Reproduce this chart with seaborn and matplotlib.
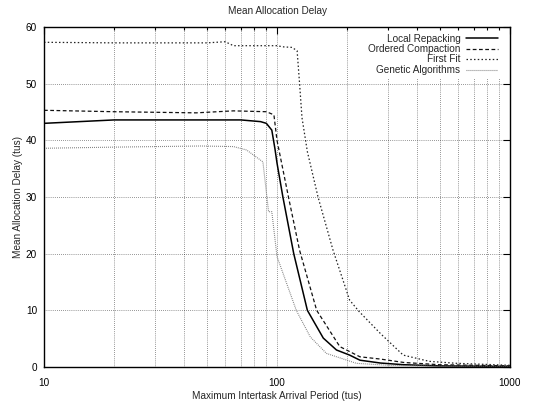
import numpy as np
import pandas as pd
import matplotlib
matplotlib.use('Agg')
import matplotlib.pyplot as plt
import seaborn as sns
from matplotlib.ticker import FixedLocator, NullFormatter, FixedFormatter

# ---- data ----
lr_x = [10, 20, 50, 70, 85, 90, 95, 98, 100, 106, 118, 135, 158, 180, 205, 227, 278, 350, 500, 1000]
lr_y = [43.0, 43.6, 43.6, 43.6, 43.3, 43.0, 41.8, 38.5, 36.0, 30.0, 20.0, 10.0, 5.1, 3.0, 2.1, 1.2, 0.7, 0.4, 0.2, 0.1]

oc_x = [10, 20, 45, 65, 90, 97, 100, 112, 125, 148, 186, 227, 278, 350, 500, 1000]
oc_y = [45.3, 45.05, 44.85, 45.2, 45.05, 44.5, 40.0, 30.0, 20.6, 10.0, 3.6, 1.8, 1.4, 0.8, 0.4, 0.2]

ff_x = [10, 20, 50, 60, 65, 100, 106, 116, 122, 125, 128, 135, 150, 174, 205, 225, 278, 348, 450, 590, 1000]
ff_y = [57.3, 57.2, 57.2, 57.4, 56.7, 56.7, 56.5, 56.4, 55.8, 50.0, 44.0, 38.0, 30.0, 20.6, 11.8, 9.8, 5.9, 2.1, 1.0, 0.65, 0.3]

ga_x = [10, 20, 47, 65, 74, 87, 92, 95, 100, 121, 139, 163, 219, 300, 500, 1000]
ga_y = [38.6, 38.8, 39.0, 38.9, 38.3, 36.2, 27.4, 27.4, 19.5, 10.0, 5.3, 2.4, 0.65, 0.3, 0.15, 0.1]

series_names = ["Local Repacking", "Ordered Compaction", "First Fit", "Genetic Algorithms"]
x_ticks = [10, 100, 1000]
x_tick_labels = ["10", "100", "1000"]
y_ticks = [0, 10, 20, 30, 40, 50, 60]

title = "Mean Allocation Delay"
xlabel = "Maximum Intertask Arrival Period (tus)"
ylabel = "Mean Allocation Delay (tus)"

# ---- style ----
FS = 7.2
sns.set_theme(style="white")
plt.rcParams['font.family'] = ['Liberation Sans', 'DejaVu Sans']
plt.rcParams['font.size'] = FS
plt.rcParams['axes.linewidth'] = 1.0

W, H = 543, 408
fig = plt.figure(figsize=(W / 100, H / 100), dpi=100)
L, R, T, B = 44, 510, 27, 367
ax = fig.add_axes([L / W, (H - B) / H, (R - L) / W, (B - T) / H])

styles = [
    dict(color="black", linestyle="-", linewidth=1.1),
    dict(color="#111111", linestyle=(0, (3, 2)), linewidth=0.9),
    dict(color="#222222", linestyle=(0, (1.2, 1.8)), linewidth=0.9),
    dict(color="#777777", linestyle=(0, (0.8, 1.0)), linewidth=0.8),
]
data = [(lr_x, lr_y), (oc_x, oc_y), (ff_x, ff_y), (ga_x, ga_y)]
for (xs, ys), name, st in zip(data, series_names, styles):
    sns.lineplot(x=xs, y=ys, ax=ax, estimator=None, sort=False, label=name, **st)

ax.set_xscale("log")
ax.set_xlim(10, 1000)
ax.set_ylim(0, 60)

ax.xaxis.set_major_locator(FixedLocator(x_ticks))
ax.xaxis.set_major_formatter(FixedFormatter(x_tick_labels))
minors = [m * d for d in (10, 100) for m in range(2, 10)]
ax.xaxis.set_minor_locator(FixedLocator(minors))
ax.xaxis.set_minor_formatter(NullFormatter())
ax.yaxis.set_major_locator(FixedLocator(y_ticks))
ax.yaxis.set_minor_locator(FixedLocator([]))

grid_kw = dict(color="black", linestyle=(0, (1, 2)), linewidth=0.5, alpha=0.8)
ax.grid(True, which="both", axis="x", **grid_kw)
ax.grid(True, which="major", axis="y", **grid_kw)
ax.set_axisbelow(True)

ax.tick_params(which="both", direction="in", top=True, right=True, colors="black",
               labelsize=FS, width=0.8)
ax.tick_params(which="major", length=5)
ax.tick_params(axis="x", which="major", pad=8)
ax.tick_params(axis="y", which="major", pad=5)
ax.tick_params(which="minor", length=2.5)
for s in ax.spines.values():
    s.set_color("black")
    s.set_linewidth(1.0)

ax.set_title(title, fontsize=FS, pad=9)
ax.set_xlabel(xlabel, fontsize=FS, labelpad=2)
ax.set_ylabel(ylabel, fontsize=FS, labelpad=2)

leg = ax.legend(loc="upper right", bbox_to_anchor=(0.989, 1.0),
                markerfirst=False, frameon=True, fontsize=FS,
                handlelength=3.2, handletextpad=0.6, labelspacing=0.05,
                borderaxespad=0.35, borderpad=0.3, fancybox=False)
leg.get_frame().set_facecolor("white")
leg.get_frame().set_edgecolor("none")
leg.get_frame().set_alpha(1.0)

fig.savefig("out.png", dpi=100)
